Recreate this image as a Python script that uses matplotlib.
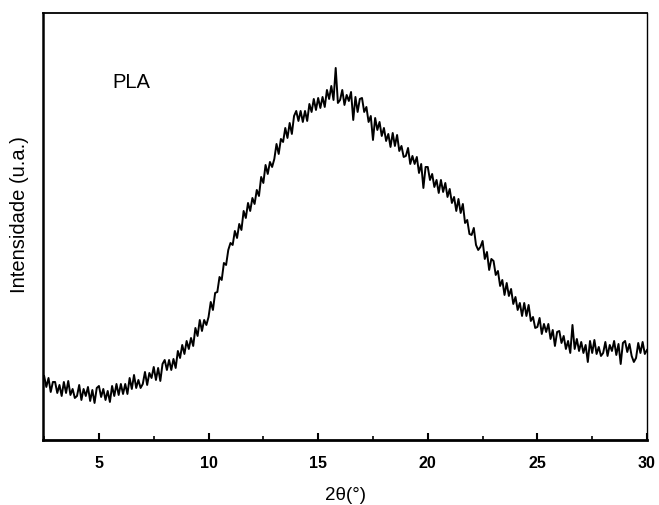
import numpy as np
import matplotlib
matplotlib.use("Agg")
from matplotlib import pyplot as plt
from matplotlib.ticker import MultipleLocator

# XRD pattern of PLA, intensity (arb. units), step 0.1 deg from 2.5
intensity = [
    64, 53, 62, 48, 58,                                 # 2.5 - 2.9
    58, 47, 55, 44, 58, 47, 59, 45, 51, 42,             # 3
    44, 55, 40, 51, 44, 53, 39, 50, 37, 52,             # 4
    54, 43, 51, 40, 49, 38, 54, 44, 56, 45,             # 5
    56, 46, 56, 46, 62, 51, 65, 52, 60, 52,             # 6
    56, 68, 55, 67, 62, 73, 60, 72, 59, 76,             # 7
    80, 70, 80, 70, 81, 72, 89, 82, 95, 86,             # 8
    99, 91, 102, 94, 112, 104, 120, 109, 120, 115,      # 9
    123, 138, 130, 147, 148, 163, 160, 177, 175, 190,   # 10
    197, 195, 209, 202, 216, 210, 229, 222, 237, 229,   # 11
    242, 236, 250, 244, 263, 257, 275, 266, 278, 273,   # 12
    281, 296, 286, 301, 298, 312, 302, 317, 306, 324,   # 13
    329, 319, 329, 318, 329, 319, 336, 328, 341, 330,   # 14
    342, 332, 343, 333, 350, 341, 354, 340, 372, 337,   # 15
    340, 350, 335, 345, 339, 348, 320, 343, 328, 341,   # 16
    342, 328, 333, 318, 324, 300, 322, 310, 318, 304,   # 17
    312, 299, 306, 293, 307, 294, 305, 289, 294, 283,   # 18
    284, 292, 276, 284, 276, 283, 267, 276, 252, 273,   # 19
    273, 260, 266, 253, 260, 247, 260, 248, 257, 243,   # 20
    251, 237, 243, 229, 241, 227, 236, 217, 220, 206,   # 21
    205, 212, 195, 190, 193, 199, 181, 188, 170, 181,   # 22
    179, 165, 169, 154, 160, 145, 157, 144, 151, 136,   # 23
    143, 130, 137, 124, 137, 124, 135, 119, 123, 112,   # 24
    113, 122, 106, 116, 108, 116, 101, 110, 94, 108,    # 25
    109, 97, 104, 91, 99, 87, 115, 91, 101, 89,         # 26
    98, 87, 95, 78, 99, 87, 100, 86, 93, 84,            # 27
    87, 98, 84, 95, 89, 99, 85, 96, 76, 97,             # 28
    99, 88, 96, 84, 78, 82, 97, 87, 98, 86,             # 29
    90,                                                 # 30
]
two_theta = 2.5 + 0.1 * np.arange(len(intensity))

xticks = [5, 10, 15, 20, 25, 30]

plt.rcParams['font.family'] = ['Liberation Sans', 'DejaVu Sans']

fig = plt.figure(figsize=(6.59, 5.06), dpi=100)
ax = fig.add_axes([0.0653, 0.1285, 0.9165, 0.8439])

ax.plot(two_theta, intensity, color='black', lw=1.4)

ax.set_xlim(2.45, 30)
ax.set_ylim(0, 427)

ax.set_xticks(xticks)
ax.xaxis.set_minor_locator(MultipleLocator(2.5))
ax.tick_params(axis='x', which='major', direction='in', length=5, width=1.5,
               labelsize=11.5, pad=11)
ax.tick_params(axis='x', which='minor', direction='in', length=3, width=1.2)
for lab in ax.get_xticklabels():
    lab.set_fontweight('bold')
ax.set_yticks([])

ax.spines['left'].set_linewidth(1.8)
ax.spines['bottom'].set_linewidth(2.0)
ax.spines['top'].set_linewidth(1.3)
ax.spines['right'].set_linewidth(1.0)

ax.set_xlabel('2θ(°)', fontsize=13.5, labelpad=11)
ax.set_ylabel('Intensidade (u.a.)', fontsize=14.5)
ax.yaxis.set_label_coords(-0.024, 0.53)

ax.text(0.114, 0.826, 'PLA', transform=ax.transAxes, fontsize=14.5)

fig.savefig('out.png', dpi=100)
